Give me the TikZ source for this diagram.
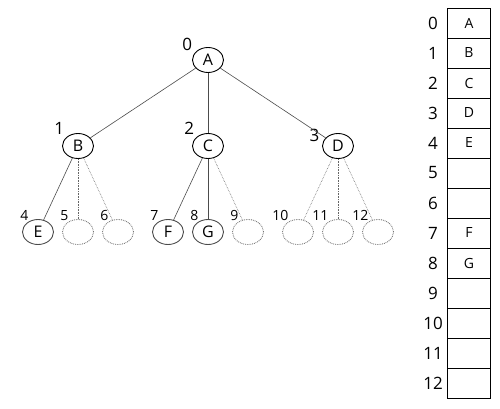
\documentclass[tikz,border=0pt]{standalone}
\usepackage{fontspec}
\setmainfont{Open Sans}
\usetikzlibrary{shapes.geometric}

\begin{document}
\begin{tikzpicture}[x=1pt,y=-1pt,
    level distance=86pt,
    level 1/.style={sibling distance=130pt},
    level 2/.style={sibling distance=40pt},
    elem/.style={draw,line width=0.9pt,ellipse,minimum width=31pt,minimum height=25pt,
                 inner sep=0pt,font=\fontsize{16}{18}\selectfont},
    hole/.style={elem,draw=gray!80!black,line width=0.8pt,densely dotted},
    lvl/.style={font=\fontsize{17}{19}\selectfont,inner sep=1pt,label distance=2pt},
    sub/.style={font=\fontsize{14}{16}\selectfont,inner sep=1pt,label distance=-1pt},
    edge from parent/.style={draw,gray!60!black,line width=0.6pt},
    gone/.style={draw,gray!80!black,line width=0.6pt,densely dotted},
    cell/.style={draw,line width=0.8pt,minimum width=43pt,minimum height=30pt,inner sep=0pt,
                 font=\fontsize{14}{16}\selectfont},
    idx/.style={font=\fontsize{17}{19}\selectfont}]
\useasboundingbox (0,0) rectangle (500,409);

\node[elem,label={[lvl]150:0}] (a) at (208,60) {A}
    child {node[elem,label={[lvl]140:1}] (b) {B}
        child {node[elem,label={[sub]130:4}] (e) {E}}
        child {node[hole,label={[sub]130:5}] (n5) {} edge from parent[gone]}
        child {node[hole,label={[sub]130:6}] (n6) {} edge from parent[gone]}
    }
    child {node[elem,label={[lvl]140:2}] (c) {C}
        child {node[elem,label={[sub]130:7}] (f) {F}}
        child {node[elem,label={[sub]130:8}] (g) {G}}
        child {node[hole,label={[sub]130:9}] (n9) {} edge from parent[gone]}
    }
    child {node[elem,label={[lvl]170:3}] (d) {D}
        child {node[hole,label={[sub]130:10}] (n10) {} edge from parent[gone]}
        child {node[hole,label={[sub]130:11}] (n11) {} edge from parent[gone]}
        child {node[hole,label={[sub]130:12}] (n12) {} edge from parent[gone]}
    };

% array
\foreach \v [count=\i from 0] in {A,B,C,D,E,{},{},F,G,{},{},{},{}} {
    \node[cell] (cell\i) at (469,{23+30*\i}) {\v};
    \node[idx] (idx\i) at (433,{23+30*\i}) {\i};
}

\end{tikzpicture}
\end{document}
